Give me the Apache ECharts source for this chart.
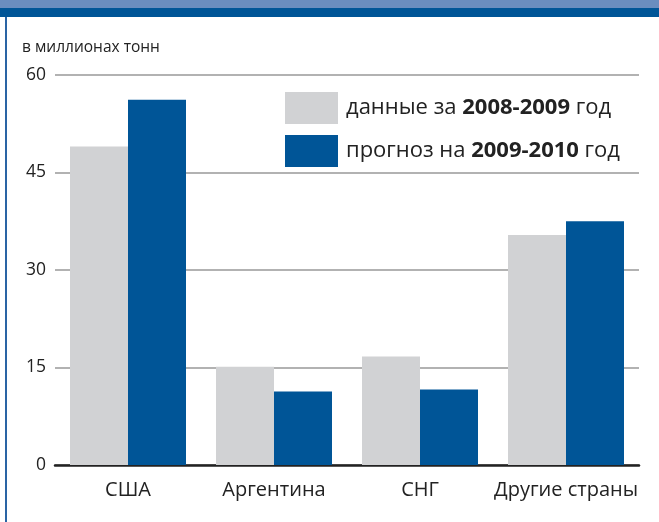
<!DOCTYPE html>
<html>
<head>
<meta charset="utf-8">
<script src="https://cdn.jsdelivr.net/npm/echarts@6/dist/echarts.min.js"></script>
<style>
  html, body { margin: 0; padding: 0; background: #fff; }
  #main { width: 659px; height: 522px; }
</style>
</head>
<body>
<div id="main"></div>
<script>
var categories = ['США', 'Аргентина', 'СНГ', 'Другие страны'];
var seriesNames = ['данные за 2008-2009 год', 'прогноз на 2009-2010 год'];
var data2008 = [49, 15.1, 16.7, 35.4];
var data2009 = [56.2, 11.3, 11.6, 37.5];
var yTicks = [0, 15, 30, 45, 60];

var chart = echarts.init(document.getElementById('main'), null, { renderer: 'canvas' });
var font = '"Open Sans", "Noto Sans", sans-serif';

var option = {
  animation: false,
  textStyle: { fontFamily: font },
  color: ['#d1d2d4', '#005597'],
  graphic: [
    { type: 'rect', shape: { x: 0, y: 0, width: 659, height: 8 }, style: { fill: '#6a8dbf' } },
    { type: 'rect', shape: { x: 0, y: 8, width: 659, height: 9 }, style: { fill: '#005597' } },
    { type: 'rect', shape: { x: 5, y: 17, width: 2, height: 505 }, style: { fill: '#2a64a4' } },
    {
      type: 'text', left: 22, top: 40,
      style: { text: 'в миллионах тонн', fontSize: 15.5, fill: '#222', fontFamily: font }
    }
  ],
  legend: {
    orient: 'vertical',
    left: 280, top: 87,
    itemWidth: 53, itemHeight: 32, itemGap: 11,
    icon: 'rect',
    data: seriesNames,
    formatter: function (name) {
      var m = name.match(/^(.*?)(\d{4}-\d{4})(.*)$/);
      return '{n|' + m[1] + '}{b|' + m[2] + '}{n|' + m[3] + '}';
    },
    textStyle: {
      padding: [0, 0, 0, 3],
      rich: {
        n: { fontSize: 22, color: '#222', fontFamily: font },
        b: { fontSize: 22, color: '#222', fontWeight: 'bold', fontFamily: font }
      }
    }
  },
  grid: { left: 55, right: 20, top: 75, bottom: 57 },
  xAxis: {
    type: 'category',
    data: categories,
    axisLine: { show: true, lineStyle: { color: '#222', width: 2.5 } },
    axisTick: { show: false },
    axisLabel: { interval: 0, fontSize: 20, color: '#222', margin: 15, fontFamily: font }
  },
  yAxis: {
    type: 'value',
    min: yTicks[0], max: yTicks[yTicks.length - 1], interval: 15,
    axisLine: { show: false },
    axisTick: { show: false },
    axisLabel: { fontSize: 17.5, color: '#222', margin: 9, fontFamily: font },
    splitLine: { lineStyle: { color: '#999', width: 1.5 } }
  },
  series: [
    { name: seriesNames[0], type: 'bar', data: data2008, barWidth: 58, barGap: '0%', z: 3 },
    { name: seriesNames[1], type: 'bar', data: data2009, barWidth: 58, barGap: '0%', z: 3 }
  ]
};
chart.setOption(option);
</script>
</body>
</html>
